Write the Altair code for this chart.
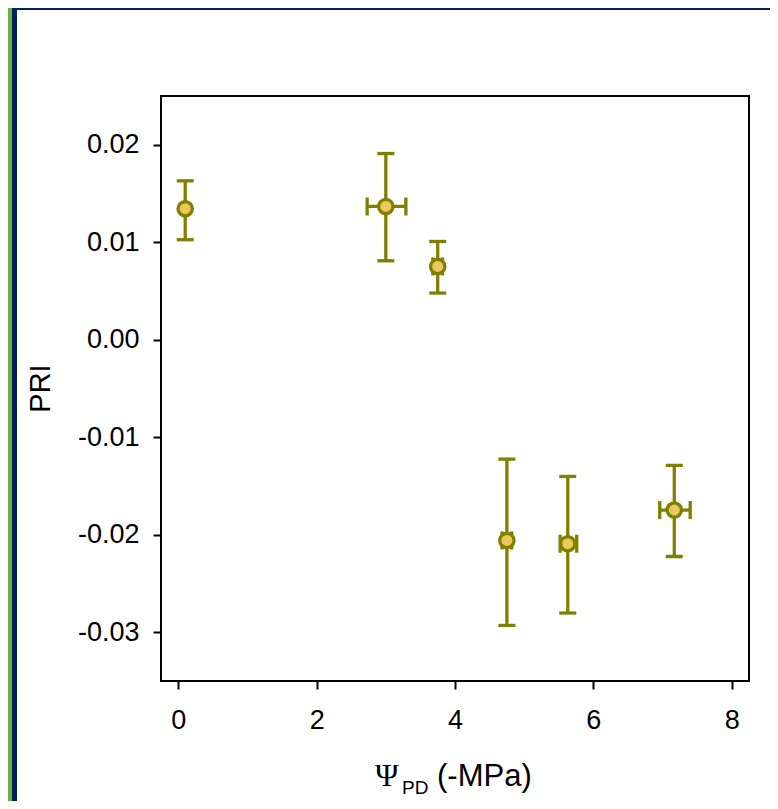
import altair as alt
import pandas as pd

# Data
x_mean = [0.10, 3.00, 3.75, 4.75, 5.63, 7.17]
x_low = [0.10, 2.73, 3.68, 4.68, 5.52, 6.96]
x_high = [0.10, 3.29, 3.82, 4.82, 5.76, 7.40]
y_mean = [0.01344, 0.01367, 0.00752, -0.02058, -0.02092, -0.01747]
y_low = [0.01026, 0.0081, 0.00479, -0.0293, -0.02803, -0.02223]
y_high = [0.0163, 0.0191, 0.01008, -0.01224, -0.01402, -0.01289]

x_ticks = [0, 2, 4, 6, 8]
y_ticks = [-0.03, -0.02, -0.01, 0.0, 0.01, 0.02]

df = pd.DataFrame({"xm": x_mean, "xl": x_low, "xh": x_high,
                   "ym": y_mean, "yl": y_low, "yh": y_high})
one = pd.DataFrame({"a": [0]})

OLIVE = "#808000"
FILL = "#EBC85C"
FONT = "Liberation Sans"

xs = alt.Scale(domain=[-0.25, 8.25], nice=False, zero=False)
ys = alt.Scale(domain=[-0.035, 0.025], nice=False, zero=False)

x_axis = alt.Axis(values=x_ticks, format="d", title=None, grid=False, domain=False,
                  tickSize=8, tickWidth=2, tickColor="black", labelFontSize=27,
                  labelFont=FONT, labelColor="black", labelPadding=18, zindex=1)
y_axis = alt.Axis(values=y_ticks, title="PRI", grid=False, domain=False,
                  tickSize=8, tickWidth=2, tickColor="black", labelFontSize=27,
                  labelFont=FONT, labelColor="black", labelPadding=14, zindex=1,
                  labelExpr="(datum.value < 0 ? '-' : '') + format(abs(datum.value), '.2f')",
                  titleFont=FONT, titleFontSize=29, titleFontWeight="normal",
                  titleColor="black", titleX=-112, titleY=292, titleAngle=270,
                  titleBaseline="alphabetic", titleAlign="center")


def X(f):
    return alt.X(f, type="quantitative", scale=xs, axis=x_axis)


def Y(f):
    return alt.Y(f, type="quantitative", scale=ys, axis=y_axis)


base = alt.Chart(df)

page = alt.Chart(one).mark_rect(fill="white", stroke="#002060", strokeWidth=5).encode(
    x=alt.value(-146.5), x2=alt.value(700), y=alt.value(-88.5), y2=alt.value(800))
plot_frame = alt.Chart(one).mark_rect(fillOpacity=0, stroke="black", strokeWidth=2).encode(
    x=alt.value(0), x2=alt.value("width"), y=alt.value(0), y2=alt.value("height"))

vrule = base.mark_rule(color=OLIVE, strokeWidth=3.3).encode(
    x=X("xm"), y=Y("yl"), y2="yh:Q")
hrule = base.mark_rule(color=OLIVE, strokeWidth=3.3).encode(
    x=X("xl"), x2="xh:Q", y=Y("ym"))
cap_lo = base.mark_tick(orient="horizontal", size=17, thickness=3.3, color=OLIVE, opacity=1).encode(
    x=X("xm"), y=Y("yl"))
cap_hi = base.mark_tick(orient="horizontal", size=17, thickness=3.3, color=OLIVE, opacity=1).encode(
    x=X("xm"), y=Y("yh"))
cap_l = base.mark_tick(orient="vertical", size=18, thickness=3.3, color=OLIVE, opacity=1).encode(
    x=X("xl"), y=Y("ym"))
cap_r = base.mark_tick(orient="vertical", size=18, thickness=3.3, color=OLIVE, opacity=1).encode(
    x=X("xh"), y=Y("ym"))
pts = base.mark_circle(fill=FILL, stroke=OLIVE, strokeWidth=3.3, size=205, opacity=1).encode(
    x=X("xm"), y=Y("ym"))

t_psi = alt.Chart(one).mark_text(text="Ψ", font="Liberation Serif", fontSize=32,
                                 align="left", baseline="alphabetic", color="black").encode(
    x=alt.value(214), y=alt.value(690))
t_pd = alt.Chart(one).mark_text(text="PD", font=FONT, fontSize=19,
                                align="left", baseline="alphabetic", color="black").encode(
    x=alt.value(241), y=alt.value(698))
t_unit = alt.Chart(one).mark_text(text="(-MPa)", font=FONT, fontSize=31,
                                  align="left", baseline="alphabetic", color="black").encode(
    x=alt.value(276), y=alt.value(690))

chart = alt.layer(page, plot_frame, vrule, hrule, cap_lo, cap_hi, cap_l, cap_r, pts,
                  t_psi, t_pd, t_unit).properties(
    width=588, height=585,
    autosize=alt.AutoSizeParams(type="none"),
    padding={"left": 153, "top": 88, "right": 21, "bottom": 120},
    background="#70AD47",
).configure_view(stroke=None)

chart.save("out.html", embed_options={"renderer": "svg", "actions": False})
